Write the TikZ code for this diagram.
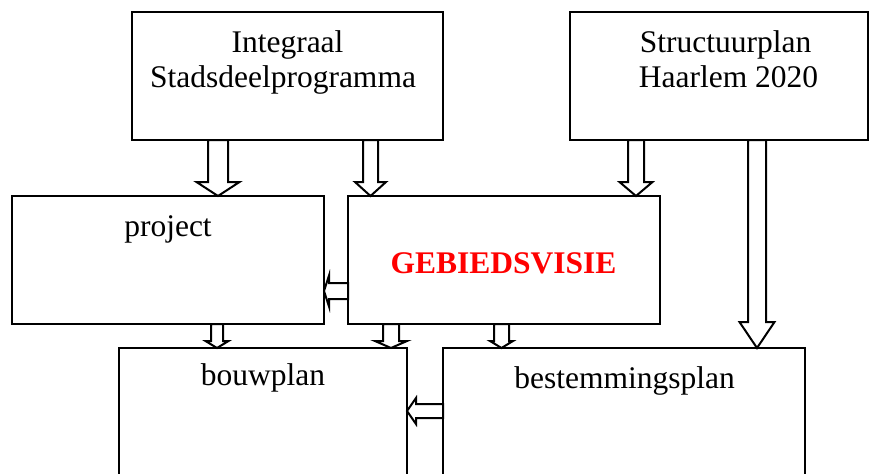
\documentclass[tikz,border=0pt]{standalone}
\usepackage{fontspec}
\setmainfont{Liberation Serif}
\usetikzlibrary{calc}
\newcommand\dnarrow[6]{% x, from, to, shaft half, head half, head length
  \draw[barrow] ({#1-#4},0 |- #2.south)
    -- ($({#1-#4},0 |- #3.north)+(0,-#6)$)
    -- ($({#1-#5},0 |- #3.north)+(0,-#6)$)
    -- (#1,0 |- #3.north)
    -- ($({#1+#5},0 |- #3.north)+(0,-#6)$)
    -- ($({#1+#4},0 |- #3.north)+(0,-#6)$)
    -- ({#1+#4},0 |- #2.south) -- cycle;}
\newcommand\lfarrow[6]{% y, from, to, shaft half, head half, head length
  \draw[barrow] (#2.west |- 0,{#1-#4})
    -- ($(#3.east |- 0,{#1-#4})+(#6,0)$)
    -- ($(#3.east |- 0,{#1-#5})+(#6,0)$)
    -- (#3.east |- 0,#1)
    -- ($(#3.east |- 0,{#1+#5})+(#6,0)$)
    -- ($(#3.east |- 0,{#1+#4})+(#6,0)$)
    -- (#2.west |- 0,{#1+#4}) -- cycle;}
\begin{document}
\begin{tikzpicture}[x=1pt,y=-1pt,
  box/.style={draw,line width=2pt,outer sep=0pt,inner sep=0pt},
  lbl/.style={anchor=base,inner sep=0pt,font=\fontsize{31.5}{35}\selectfont},
  barrow/.style={draw,line width=2pt,fill=white,line join=miter}]
\useasboundingbox (0,0) rectangle (871,474);
\clip (0,0) rectangle (871,474);
% boxes
\node[box,minimum width=311pt,minimum height=128pt] (isp) at (287.5,76) {};
\node[box,minimum width=298pt,minimum height=128pt] (sp) at (719,76) {};
\node[box,minimum width=312pt,minimum height=128pt] (proj) at (168,260) {};
\node[box,minimum width=312pt,minimum height=128pt] (gv) at (504,260) {};
\node[box,minimum width=288pt,minimum height=132pt] (bp) at (263,414) {};
\node[box,minimum width=362pt,minimum height=132pt] (bs) at (624,414) {};
% labels
\node[lbl] (t1) at (287.5,52) {Integraal};
\node[lbl] (t2) at (283,87) {Stadsdeelprogramma};
\node[lbl] (t3) at (725.5,52) {Structuurplan};
\node[lbl] (t4) at (728.5,87) {Haarlem 2020};
\node[lbl] (t5) at (168,236) {project};
\node[lbl,font=\fontsize{31.5}{35}\selectfont\bfseries,text=red] (t6) at (503.5,273) {GEBIEDSVISIE};
\node[lbl] (t7) at (263,385) {bouwplan};
\node[lbl] (t8) at (624.5,388) {bestemmingsplan};
% arrows
\dnarrow{218}{isp}{proj}{10}{21.5}{14}
\dnarrow{370.5}{isp}{gv}{7.5}{15.5}{14}
\dnarrow{636}{sp}{gv}{8}{16.5}{14}
\dnarrow{757}{sp}{bs}{9}{17.5}{26}
\dnarrow{391}{gv}{bp}{8}{16}{7}
\dnarrow{501.5}{gv}{bs}{7.5}{11.5}{7}
\dnarrow{217}{proj}{bp}{6}{11.5}{7}
\lfarrow{291}{gv}{proj}{8}{15.5}{5}
\lfarrow{411}{bs}{bp}{7}{13}{9}
\end{tikzpicture}
\end{document}
